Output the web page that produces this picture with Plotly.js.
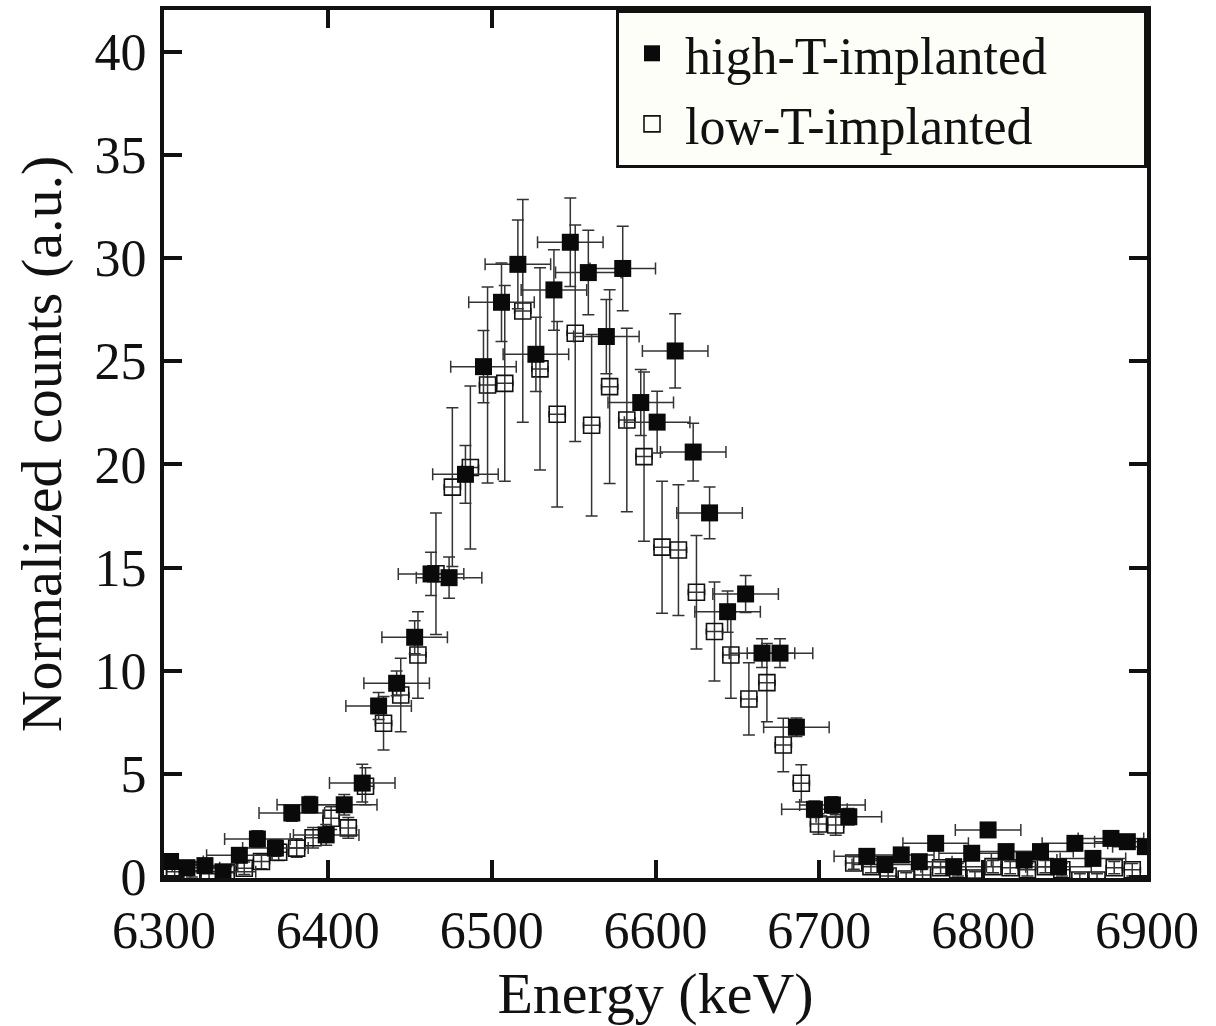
<!DOCTYPE html>
<html>
<head>
<meta charset="utf-8">
<script src="https://cdn.plot.ly/plotly-3.0.1.min.js"></script>
<style>html,body{margin:0;padding:0;background:#fff;}#chart{width:1216px;height:1026px;}</style>
</head>
<body>
<div id="chart"></div>
<script>
// high-T-implanted (filled squares)
const highE = [6304, 6314, 6325, 6336, 6346, 6357, 6368, 6378, 6389, 6399, 6410, 6421, 6431, 6442, 6453, 6463, 6474, 6484, 6495, 6506, 6516, 6527, 6538, 6548, 6559, 6570, 6580, 6591, 6601, 6612, 6623, 6633, 6644, 6655, 6665, 6676, 6686, 6697, 6708, 6718, 6729, 6740, 6750, 6761, 6771, 6782, 6793, 6803, 6814, 6825, 6835, 6846, 6856, 6867, 6878, 6888, 6899];
const highCounts = [0.75, 0.45, 0.55, 0.25, 1.05, 1.84, 1.4, 3.1, 3.5, 2.04, 3.5, 4.55, 8.29, 9.39, 11.62, 14.69, 14.51, 19.52, 24.74, 27.86, 29.7, 25.34, 28.46, 30.77, 29.3, 26.2, 29.5, 23.0, 22.05, 25.5, 20.6, 17.65, 12.86, 13.72, 10.85, 10.85, 7.26, 3.28, 3.49, 2.92, 1.0, 0.6, 1.07, 0.74, 1.63, 0.5, 1.15, 2.28, 1.23, 0.82, 1.23, 0.5, 1.63, 0.9, 1.87, 1.71, 1.47];
const highErrY = [0.3, 0.3, 0.3, 0.3, 0.3, 0.4, 0.4, 0.4, 0.4, 0.5, 0.5, 0.92, 0.65, 0.6, 0.8, 1.05, 1.0, 1.4, 1.75, 1.9, 2.15, 1.8, 1.95, 2.15, 2.05, 1.8, 2.05, 1.6, 1.5, 1.8, 1.4, 1.25, 1.0, 0.9, 0.7, 0.7, 0.45, 0.4, 0.4, 0.4, 0.3, 0.3, 0.3, 0.3, 0.3, 0.3, 0.3, 0.3, 0.3, 0.3, 0.3, 0.3, 0.3, 0.3, 0.3, 0.3, 0.3];
const highErrX = 20;

// low-T-implanted (open squares)
const lowE = [6306.5, 6317, 6327.5, 6338, 6349, 6359.5, 6370, 6381, 6391, 6402, 6412.5, 6423, 6434, 6444.5, 6455, 6466, 6476, 6487, 6497.5, 6508, 6519, 6529.5, 6540, 6551, 6561, 6572, 6582.5, 6593, 6604, 6614, 6625, 6636, 6646, 6657, 6668, 6678, 6689, 6699.5, 6710, 6721, 6731.5, 6742, 6753, 6763, 6774, 6784.5, 6795, 6806, 6816.5, 6827, 6838, 6848, 6859, 6869.5, 6880, 6891];
const lowCounts = [0.25, 0.3, 0.15, 0.2, 0.42, 0.75, 1.2, 1.4, 1.9, 2.85, 2.38, 4.4, 7.45, 8.82, 10.76, 14.7, 18.9, 19.85, 23.85, 23.93, 27.44, 24.63, 22.43, 26.36, 21.9, 23.77, 22.15, 20.38, 15.99, 15.85, 13.8, 11.9, 10.76, 8.63, 9.42, 6.4, 4.54, 2.57, 2.52, 0.68, 0.5, 0.05, -0.1, 0.1, 0.45, 0.35, -0.05, 0.5, 0.45, 0.35, 0.5, 0.35, -0.15, -0.15, 0.45, 0.35];
const lowErrY = [0.3, 0.3, 0.3, 0.3, 0.3, 0.35, 0.4, 0.45, 0.5, 0.55, 0.5, 0.9, 1.3, 1.78, 2.1, 2.95, 3.85, 3.95, 4.75, 4.75, 5.4, 4.9, 4.5, 5.25, 4.4, 4.7, 4.45, 4.1, 3.2, 3.17, 2.75, 2.4, 2.1, 1.75, 1.9, 1.3, 0.9, 0.5, 0.5, 0.3, 0.3, 0.3, 0.3, 0.3, 0.3, 0.3, 0.3, 0.3, 0.3, 0.3, 0.3, 0.3, 0.3, 0.3, 0.3, 0.3];
const lowErrX = 5;

const seriesNames = ['high-T-implanted', 'low-T-implanted'];
const xTicks = [6300, 6400, 6500, 6600, 6700, 6800, 6900];
const yTicks = [0, 5, 10, 15, 20, 25, 30, 35, 40];

const FONT = '"Liberation Serif", "Times New Roman", serif';
const barColor = '#333';
const PAD = '\u00a0\u00a0\u00a0\u00a0\u00a0\u00a0\u00a0';  // right padding inside the legend box

const traces = [
  {
    x: lowE, y: lowCounts, type: 'scatter', mode: 'markers', name: seriesNames[1] + PAD,
    marker: {symbol: 'square-open', size: 16, color: '#111', line: {width: 1.6, color: '#111'}},
    error_y: {type: 'data', array: lowErrY, visible: true, color: barColor, thickness: 1.5, width: 6},
    error_x: {type: 'constant', value: lowErrX, visible: true, color: barColor, thickness: 1.5, width: 3},
    cliponaxis: true
  },
  {
    x: highE, y: highCounts, type: 'scatter', mode: 'markers', name: seriesNames[0] + PAD,
    marker: {symbol: 'square', size: 17, color: '#0a0a0a', line: {width: 0}},
    error_y: {type: 'data', array: highErrY, visible: true, color: barColor, thickness: 1.5, width: 6},
    error_x: {type: 'constant', value: highErrX, visible: true, color: barColor, thickness: 1.5, width: 6},
    cliponaxis: true
  }
];

const layout = {
  width: 1216, height: 1026,
  margin: {l: 164, r: 69, t: 10, b: 148},
  paper_bgcolor: '#ffffff', plot_bgcolor: '#ffffff',
  font: {family: FONT, color: '#111', size: 52},
  showlegend: true,
  legend: {
    x: 1, xanchor: 'right', y: 1, yanchor: 'top',
    bgcolor: '#fefef9', bordercolor: '#111', borderwidth: 3,
    font: {family: FONT, size: 52, color: '#111'},
    traceorder: 'reversed', tracegroupgap: 0,
    itemwidth: 56
  },
  xaxis: {
    range: [6300, 6900], tickvals: xTicks, ticktext: xTicks.map(String),
    showgrid: false, zeroline: false,
    showline: true, linewidth: 4, linecolor: '#111', mirror: 'ticks',
    ticks: 'inside', ticklen: 18, tickwidth: 4, tickcolor: '#111',
    tickfont: {family: FONT, size: 52, color: '#111'},
    ticklabelstandoff: 4,
    title: {text: 'Energy (keV)', font: {family: FONT, size: 58, color: '#111'}, standoff: 22}
  },
  yaxis: {
    range: [-0.05, 42.03], tickvals: yTicks, ticktext: yTicks.map(String),
    showgrid: false, zeroline: false,
    showline: true, linewidth: 4, linecolor: '#111', mirror: 'ticks',
    ticks: 'inside', ticklen: 18, tickwidth: 4, tickcolor: '#111',
    tickfont: {family: FONT, size: 52, color: '#111'},
    ticklabelstandoff: 3,
    title: {text: 'Normalized counts (a.u.)', font: {family: FONT, size: 58, color: '#111'}, standoff: 15}
  }
};

Plotly.newPlot('chart', traces, layout, {displayModeBar: false, staticPlot: true});
</script>
</body>
</html>
